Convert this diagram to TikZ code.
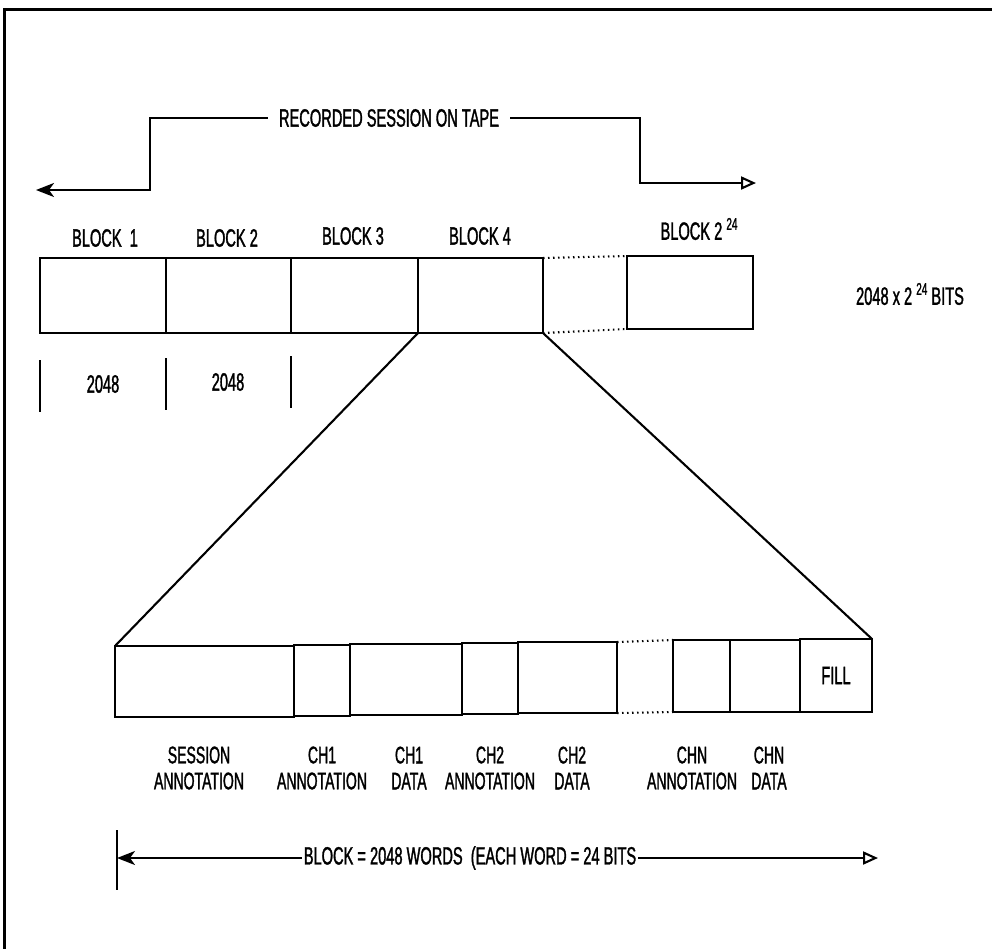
\documentclass[tikz,border=0pt]{standalone}
\usepackage{fontspec}
\setmainfont{Liberation Sans}[FakeStretch=0.585,FakeBold=1.3]
\usetikzlibrary{arrows.meta}
\tikzset{
  cell/.style={draw, line width=2.1pt, inner sep=0pt, outer sep=0pt, anchor=north west},
  lbl/.style={font=\fontsize{25}{27}\selectfont, inner sep=0pt},
  sublbl/.style={font=\fontsize{24}{26}\selectfont, inner sep=0pt, align=center},
  ln/.style={line width=2.1pt},
  dots/.style={line width=2.1pt, dash pattern=on 1.5pt off 3.5pt},
  frm/.style={line width=3pt},
  lefttip/.style={-{Stealth[length=18pt,width=14pt,inset=5pt]}},
  righttip/.style={-{Triangle[open,length=15pt,width=13pt]}}
}
\newcommand{\sups}[1]{\raisebox{0.75ex}{\fontsize{17}{18}\selectfont #1}}
\begin{document}
\begin{tikzpicture}[x=1pt,y=-1pt]
\useasboundingbox (0,0) rectangle (992,948);
% frame
\draw[frm] (4,960) -- (4,9) -- (1000,9);
% top arrow
\node[lbl, inner xsep=11pt] (rec) at (389,118) {RECORDED SESSION ON TAPE};
\coordinate (lt) at (36,190);
\coordinate (rt) at (756,183);
\draw[ln, lefttip] (rec.west) -- (150,118) -- (150,190) -- (lt);
\draw[ln, righttip] (rec.east) -- (640,118) -- (640,183) -- (rt);
% top row
\node[cell, minimum width=126pt, minimum height=75pt] (b1) at (40,258) {};
\node[cell, minimum width=125pt, minimum height=75pt] (b2) at (166,258) {};
\node[cell, minimum width=127pt, minimum height=75pt] (b3) at (291,258) {};
\node[cell, minimum width=125pt, minimum height=75pt] (b4) at (418,258) {};
\node[cell, minimum width=126pt, minimum height=73pt] (bn) at (627,256) {};
\draw[dots] (b4.north east) -- (bn.north west);
\draw[dots] (b4.south east) -- (bn.south west);
\node[lbl] (l1) at (105,238) {BLOCK\ \ 1};
\node[lbl] (l2) at (227,238) {BLOCK 2};
\node[lbl] (l3) at (353,236) {BLOCK 3};
\node[lbl] (l4) at (480,236) {BLOCK 4};
\node[lbl] (ln) at (699,229) {BLOCK 2 \sups{24}};
\node[lbl] (bits) at (910,294) {2048 x 2 \sups{24} BITS};
% ticks
\coordinate (t1a) at (40,360); \coordinate (t1b) at (40,412);
\coordinate (t2a) at (166,358); \coordinate (t2b) at (166,410);
\coordinate (t3a) at (291,356); \coordinate (t3b) at (291,408);
\draw[ln] (t1a) -- (t1b);
\draw[ln] (t2a) -- (t2b);
\draw[ln] (t3a) -- (t3b);
\node[lbl] (n1) at (103,384) {2048};
\node[lbl] (n2) at (228,382) {2048};
% bottom row
\node[cell, minimum width=179pt, minimum height=71pt] (sa) at (115,646) {};
\node[cell, minimum width=56pt, minimum height=71pt] (c1a) at (294,645) {};
\node[cell, minimum width=112pt, minimum height=71pt] (c1d) at (350,644) {};
\node[cell, minimum width=56pt, minimum height=71pt] (c2a) at (462,643) {};
\node[cell, minimum width=99pt, minimum height=71pt] (c2d) at (518,642) {};
\node[cell, minimum width=57pt, minimum height=72pt] (cna) at (673,640) {};
\node[cell, minimum width=70pt, minimum height=72pt] (cnd) at (730,640) {};
\node[cell, minimum width=72pt, minimum height=73pt] (fill) at (800,639) {};
\node[lbl] at (fill.center) {FILL};
\draw[dots] (c2d.north east) -- (cna.north west);
\draw[dots] (c2d.south east) -- (cna.south west);
% zoom lines
\draw[ln] (b4.south west) -- (sa.north west);
\draw[ln] (b4.south east) -- (fill.north east);
% bottom labels
\node[sublbl] (s1) at (199,768) {SESSION\\ANNOTATION};
\node[sublbl] (s2) at (322,768) {CH1\\ANNOTATION};
\node[sublbl] (s3) at (409,768) {CH1\\DATA};
\node[sublbl] (s4) at (490,768) {CH2\\ANNOTATION};
\node[sublbl] (s5) at (572,768) {CH2\\DATA};
\node[sublbl] (s6) at (692,768) {CHN\\ANNOTATION};
\node[sublbl] (s7) at (769,768) {CHN\\DATA};
% bottom arrow
\coordinate (ta) at (117,830); \coordinate (tb) at (117,890);
\draw[line width=1.5pt] (ta) -- (tb);
\node[lbl, inner xsep=2pt] (blk) at (470,858) {BLOCK = 2048 WORDS\ \ (EACH WORD = 24 BITS};
\coordinate (bl) at (117,858);
\coordinate (br) at (878,858);
\draw[ln, lefttip] (blk.west) -- (bl);
\draw[ln, righttip] (blk.east) -- (br);
\end{tikzpicture}
\end{document}
